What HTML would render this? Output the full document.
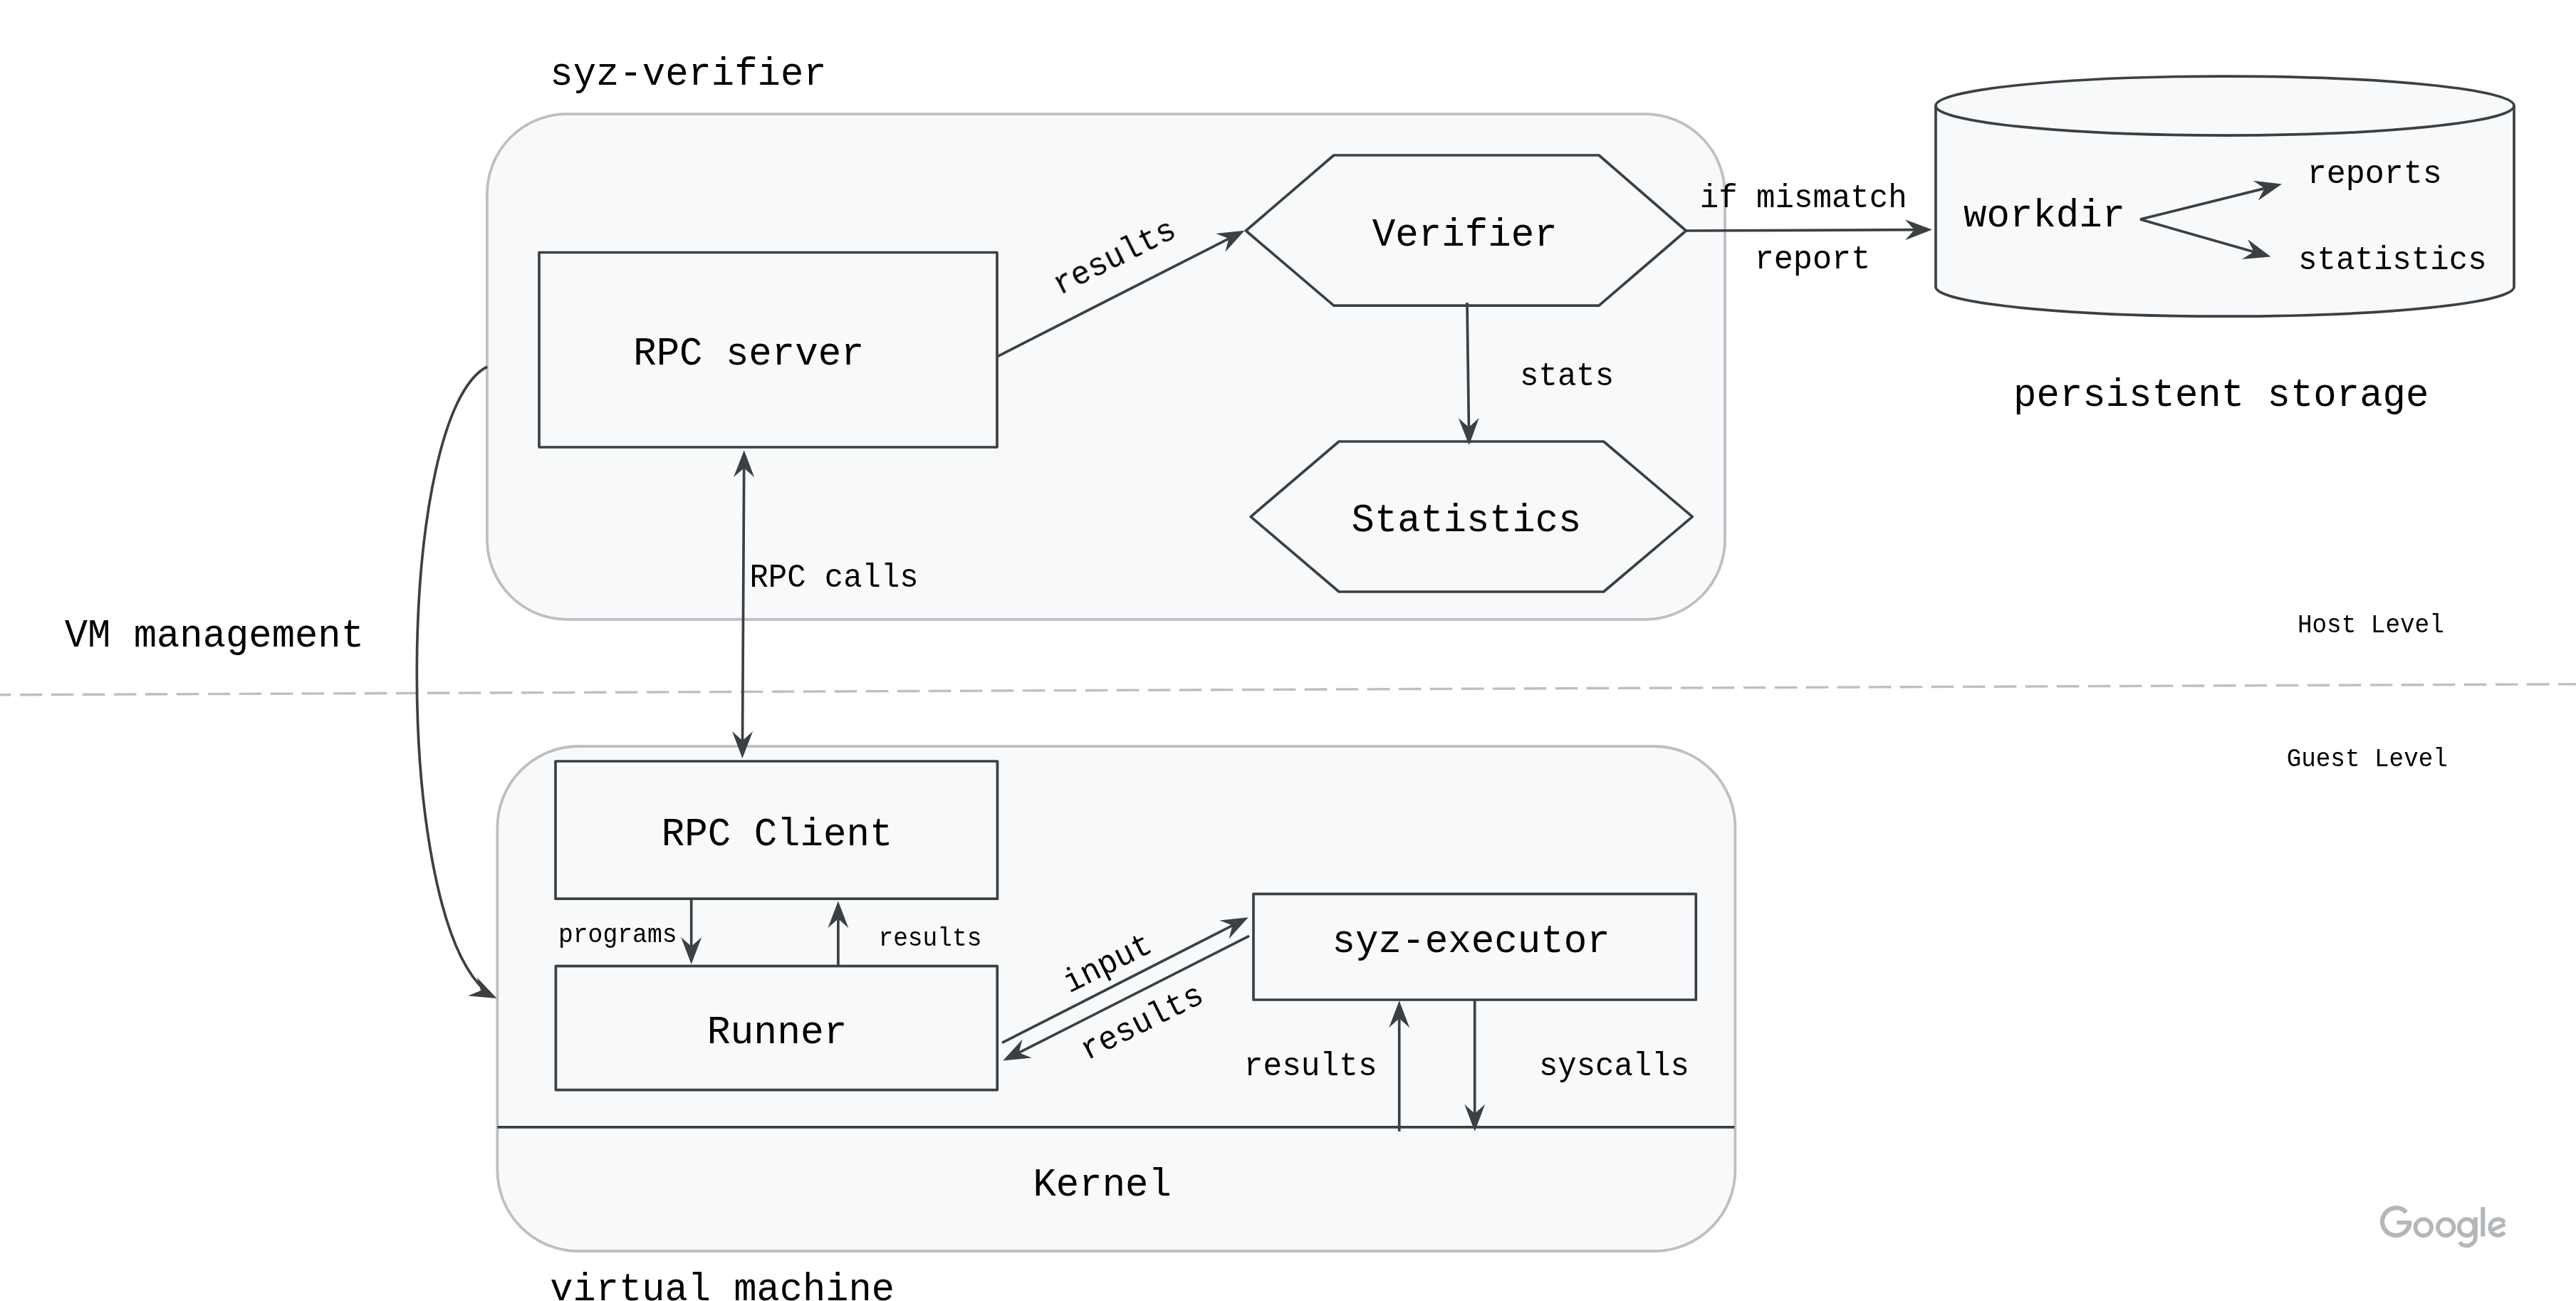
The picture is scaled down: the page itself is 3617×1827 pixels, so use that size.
<!DOCTYPE html>
<html><head><meta charset="utf-8"><style>html,body{margin:0;padding:0;background:#fff;width:3617px;height:1827px;overflow:hidden}svg{display:block}</style></head>
<body>
<svg width="3617" height="1827" viewBox="0 0 3617 1827">
<rect width="3617" height="1827" fill="#fff"/>
<rect x="684" y="160.2" width="1738" height="709.6" rx="112" ry="112" fill="#f8f9fa" stroke="#bdbfc2" stroke-width="3.8"/>
<rect x="698.4" y="1048" width="1738" height="709" rx="114" ry="114" fill="#f8f9fa" stroke="#bdbfc2" stroke-width="3.8"/>
<line x1="0" y1="975.8" x2="3617" y2="960.8" stroke="#bdbfc2" stroke-width="3.4" stroke-dasharray="31.6 12.4" stroke-dashoffset="16.2"/>
<rect x="757" y="354.5" width="643.0" height="273.5" fill="#f8f9fa" stroke="#3c4043" stroke-width="3.7" stroke-linejoin="round"/>
<rect x="780" y="1069" width="620.5" height="193.2" fill="#f8f9fa" stroke="#3c4043" stroke-width="3.7" stroke-linejoin="round"/>
<rect x="780.4" y="1356.6" width="619.9" height="174.0" fill="#f8f9fa" stroke="#3c4043" stroke-width="3.7" stroke-linejoin="round"/>
<rect x="1760" y="1255.3" width="621.3" height="148.7" fill="#f8f9fa" stroke="#3c4043" stroke-width="3.7" stroke-linejoin="round"/>
<polygon points="1749.4,324.0 1872.8,218.0 2245.1,218.0 2367.4,324.0 2245.1,429.2 1872.8,429.2" fill="#f8f9fa" stroke="#3c4043" stroke-width="3.7" stroke-linejoin="round"/>
<polygon points="1756.2,725.6 1880.0,620.0 2251.7,620.0 2376.3,725.6 2251.7,831.0 1880.0,831.0" fill="#f8f9fa" stroke="#3c4043" stroke-width="3.7" stroke-linejoin="round"/>
<path d="M2718,148.6 A406.0,41.5 0 0 1 3530,148.6 L3530,402.7 A406.0,41.5 0 0 1 2718,402.7 Z" fill="#f8f9fa" stroke="#3c4043" stroke-width="3.7"/>
<path d="M2718,148.6 A406.0,41.5 0 0 0 3530,148.6" fill="none" stroke="#3c4043" stroke-width="3.7"/>
<line x1="698.4" y1="1582.8" x2="2435.4" y2="1582.8" stroke="#3c4043" stroke-width="3.7"/>
<line x1="1400.0" y1="500.8" x2="1729.8" y2="332.9" stroke="#3c4043" stroke-width="3.7"/>
<path d="M1747.6,323.8 L1720.3,354.0 L1725.3,335.1 L1707.2,328.1 Z" fill="#3c4043"/>
<line x1="2060.0" y1="425.0" x2="2062.5" y2="605.0" stroke="#3c4043" stroke-width="3.7"/>
<path d="M2062.8,625.0 L2047.8,587.2 L2062.5,600.0 L2076.8,586.8 Z" fill="#3c4043"/>
<line x1="2367.4" y1="324.0" x2="2693.0" y2="322.7" stroke="#3c4043" stroke-width="3.7"/>
<path d="M2713.0,322.6 L2675.1,337.3 L2688.0,322.7 L2674.9,308.3 Z" fill="#3c4043"/>
<line x1="3005.0" y1="308.0" x2="3184.6" y2="263.4" stroke="#3c4043" stroke-width="3.7"/>
<path d="M3204.0,258.6 L3170.6,281.8 L3179.7,264.6 L3163.6,253.7 Z" fill="#3c4043"/>
<line x1="3005.0" y1="308.0" x2="3169.3" y2="355.0" stroke="#3c4043" stroke-width="3.7"/>
<path d="M3188.5,360.5 L3148.0,364.0 L3164.5,353.6 L3156.0,336.1 Z" fill="#3c4043"/>
<line x1="1042.5" y1="1045.0" x2="1044.7" y2="652.2" stroke="#3c4043" stroke-width="3.7"/>
<path d="M1044.8,632.2 L1059.1,670.3 L1044.7,657.2 L1030.1,670.1 Z" fill="#3c4043"/>
<path d="M1042.4,1065.0 L1028.1,1026.9 L1042.5,1040.0 L1057.1,1027.1 Z" fill="#3c4043"/>
<line x1="970.7" y1="1262.2" x2="970.7" y2="1334.0" stroke="#3c4043" stroke-width="3.7"/>
<path d="M970.7,1354.0 L956.2,1316.0 L970.7,1329.0 L985.2,1316.0 Z" fill="#3c4043"/>
<line x1="1176.9" y1="1356.6" x2="1176.9" y2="1285.3" stroke="#3c4043" stroke-width="3.7"/>
<path d="M1176.9,1265.3 L1191.4,1303.3 L1176.9,1290.3 L1162.4,1303.3 Z" fill="#3c4043"/>
<line x1="1407.0" y1="1464.4" x2="1735.0" y2="1297.4" stroke="#3c4043" stroke-width="3.7"/>
<path d="M1752.8,1288.3 L1725.5,1318.5 L1730.5,1299.6 L1712.4,1292.6 Z" fill="#3c4043"/>
<line x1="1754.0" y1="1314.4" x2="1426.1" y2="1480.6" stroke="#3c4043" stroke-width="3.7"/>
<path d="M1408.3,1489.6 L1435.6,1459.5 L1430.6,1478.3 L1448.8,1485.4 Z" fill="#3c4043"/>
<line x1="1964.7" y1="1588.7" x2="1964.7" y2="1425.3" stroke="#3c4043" stroke-width="3.7"/>
<path d="M1964.7,1405.3 L1979.2,1443.3 L1964.7,1430.3 L1950.2,1443.3 Z" fill="#3c4043"/>
<line x1="2070.7" y1="1404.0" x2="2070.7" y2="1568.7" stroke="#3c4043" stroke-width="3.7"/>
<path d="M2070.7,1588.7 L2056.2,1550.7 L2070.7,1563.7 L2085.2,1550.7 Z" fill="#3c4043"/>
<path d="M684.0,515.0 C557.1,579.5 549.0,1272.9 680.8,1390.6" fill="none" stroke="#3c4043" stroke-width="3.7"/>
<path d="M697.6,1402.0 L657.1,1398.6 L675.1,1391.1 L669.7,1372.4 Z" fill="#3c4043"/>
<g font-family="&quot;Liberation Mono&quot;, monospace" opacity="0.999">
<text transform="translate(772.30,118.60) scale(1,1.0379)" font-size="53.956" fill="#000">syz-verifier</text>
<text transform="translate(889.22,512.00) scale(1,1.0358)" font-size="54.063" fill="#000">RPC server</text>
<text transform="translate(1926.74,344.50) scale(1,1.0335)" font-size="54.186" fill="#000">Verifier</text>
<text transform="translate(1897.62,746.00) scale(1,1.0410)" font-size="53.794" fill="#000">Statistics</text>
<text transform="translate(2134.01,541.00) scale(1,1.0552)" font-size="44.070" fill="#000">stats</text>
<text transform="translate(2386.72,291.00) scale(1,1.0542)" font-size="44.107" fill="#000">if mismatch</text>
<text transform="translate(2463.66,377.00) scale(1,1.0289)" font-size="45.192" fill="#000">report</text>
<text transform="translate(2757.05,317.80) scale(1,1.0353)" font-size="54.090" fill="#000">workdir</text>
<text transform="translate(3239.68,257.00) scale(1,1.0333)" font-size="45.000" fill="#000">reports</text>
<text transform="translate(3227.11,378.40) scale(1,1.0549)" font-size="44.082" fill="#000">statistics</text>
<text transform="translate(2827.08,570.00) scale(1,1.0367)" font-size="54.017" fill="#000">persistent storage</text>
<text transform="translate(90.74,908.00) scale(1,1.0393)" font-size="53.881" fill="#000">VM management</text>
<text transform="translate(1052.53,823.80) scale(1,1.0592)" font-size="43.899" fill="#000">RPC calls</text>
<text transform="translate(3225.88,888.40) scale(1,1.0778)" font-size="34.329" fill="#000">Host Level</text>
<text transform="translate(3210.71,1075.60) scale(1,1.0798)" font-size="34.264" fill="#000">Guest Level</text>
<text transform="translate(928.72,1187.00) scale(1,1.0344)" font-size="54.139" fill="#000">RPC Client</text>
<text transform="translate(783.97,1322.80) scale(1,1.0662)" font-size="34.702" fill="#000">programs</text>
<text transform="translate(1233.42,1327.50) scale(1,1.0717)" font-size="34.525" fill="#000">results</text>
<text transform="translate(992.67,1465.00) scale(1,1.0233)" font-size="54.726" fill="#000">Runner</text>
<text transform="translate(1870.58,1336.80) scale(1,1.0332)" font-size="54.198" fill="#000">syz-executor</text>
<text transform="translate(1746.74,1510.00) scale(1,1.0449)" font-size="44.500" fill="#000">results</text>
<text transform="translate(2160.92,1510.00) scale(1,1.0579)" font-size="43.953" fill="#000">syscalls</text>
<text transform="translate(1450.43,1679.00) scale(1,1.0364)" font-size="54.034" fill="#000">Kernel</text>
<text transform="translate(772.19,1826.00) scale(1,1.0420)" font-size="53.742" fill="#000">virtual machine</text>
<text transform="translate(1487.70,414.80) rotate(-26.50) scale(1,1.0497)" font-size="44.300" fill="#000">results</text>
<text transform="translate(1501.70,1394.70) rotate(-26.50) scale(1,1.0497)" font-size="44.300" fill="#000">input</text>
<text transform="translate(1526.30,1489.20) rotate(-26.50) scale(1,1.0497)" font-size="44.300" fill="#000">results</text>
</g>
<g fill="none" stroke="#b4b7b9">
<path d="M3378.64,1702.59 A19.3,19.3 0 1 0 3383.59,1716.17" stroke-width="6.3"/>
<rect x="3365.3" y="1714" width="20.5" height="5.6" fill="#b4b7b9" stroke="none"/>
<ellipse cx="3402.8" cy="1723.6" rx="11.35" ry="11.55" stroke-width="5.6"/>
<ellipse cx="3434.2" cy="1723.6" rx="11.35" ry="11.55" stroke-width="5.6"/>
<ellipse cx="3463.6" cy="1723.6" rx="10.9" ry="11.55" stroke-width="5.6"/>
<path d="M3475.9,1709.3 V1737 A12.5,12.5 0 0 1 3453.5,1744.5" stroke-width="5.8"/>
<rect x="3483.3" y="1695.2" width="6" height="41.2" fill="#b4b7b9" stroke="none"/>
<path d="M3516.5,1730.5 A11.4,11.4 0 1 1 3516.6,1716.6" stroke-width="5.6"/>
<path d="M3496.5,1728.5 L3517.5,1719" stroke-width="5.6"/>
</g>
</svg>
</body></html>
